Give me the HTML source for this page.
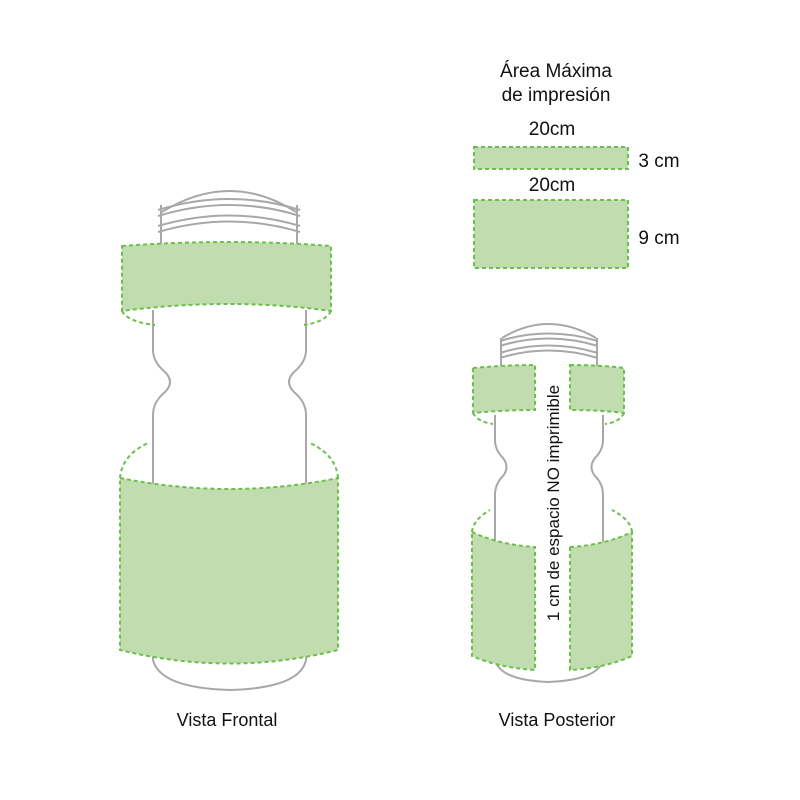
<!DOCTYPE html>
<html><head><meta charset="utf-8"><style>
html,body{margin:0;padding:0;background:#fff;}
svg{display:block;font-family:"Liberation Sans",sans-serif;}
</style></head><body>
<svg width="800" height="800" viewBox="0 0 800 800" xmlns="http://www.w3.org/2000/svg">
<g fill="none" stroke="#a8a8a8" stroke-width="2">
 <!-- Front bottle -->
 <path d="M162 212 Q230 170 296 212"/>
 <path d="M158 210 Q230 188 300 210"/>
 <path d="M158 216 Q230 194 300 216"/>
 <path d="M158 226 Q230 205 300 226"/>
 <path d="M158 232 Q230 211 300 232"/>
 <path d="M161 205 L161 245 M297 205 L297 245"/>
 <path d="M153 310 L153 350 Q153 362 165 372 Q175 382 165 392 Q153 402 153 415 L153 660 Q160 688 230 690 Q300 688 306 660 L306 415 Q306 402 294 392 Q284 382 294 372 Q306 362 306 350 L306 310"/>
 <!-- Back bottle -->
 <path d="M502 338 Q548 310 596 338"/>
 <path d="M500 341 Q548 326 598 341"/>
 <path d="M500 346 Q548 331 598 346"/>
 <path d="M500 353 Q548 338 598 353"/>
 <path d="M500 358 Q548 343 598 358"/>
 <path d="M501 338 L501 368 M597 338 L597 368"/>
 <path d="M495 415 L495 440 Q495 450 503 458 Q510 467 503 476 Q495 484 495 495 L495 660 Q500 680 548 682 Q598 680 603 660 L603 495 Q603 484 595 476 Q588 467 595 458 Q603 450 603 440 L603 415"/>
</g>
<g fill="#c1ddaf" stroke="#6cbf4a" stroke-width="2" stroke-dasharray="4 3">
 <path d="M122 246 Q230 238 331 246 L331 311 Q230 297 122 311 Z"/>
 <path d="M122 311 Q128 322 155 325" fill="none"/>
 <path d="M331 311 Q325 322 304 325" fill="none"/>
 <path d="M120 478 Q230 500 338 478 L338 650 Q230 677 120 650 Z"/>
 <path d="M120 478 Q122 455 148 443" fill="none"/>
 <path d="M338 478 Q336 455 310 443" fill="none"/>
 <rect x="474" y="147" width="154" height="22"/>
 <rect x="474" y="200" width="154" height="68"/>
 <path d="M473 368 Q505 365 535 365 L535 410 Q505 410 473 413 Z"/>
 <path d="M570 365 Q600 365 624 368 L624 413 Q600 410 570 410 Z"/>
 <path d="M473 413 Q478 422 493 424" fill="none"/>
 <path d="M624 413 Q620 422 605 424" fill="none"/>
 <path d="M472 532 Q500 545 535 547 L535 670 Q500 668 472 656 Z"/>
 <path d="M570 547 Q605 545 632 532 L632 656 Q605 668 570 670 Z"/>
 <path d="M472 532 Q473 520 490 510" fill="none"/>
 <path d="M632 532 Q631 520 612 510" fill="none"/>
</g>
<g fill="#111" font-size="19" text-anchor="middle">
 <text x="556" y="77">Área Máxima</text>
 <text x="556" y="101">de impresión</text>
 <text x="552" y="135">20cm</text>
 <text x="552" y="191">20cm</text>
 <text x="659" y="167">3 cm</text>
 <text x="659" y="244">9 cm</text>
 <text x="227" y="726" font-size="18">Vista Frontal</text>
 <text x="557" y="726" font-size="18">Vista Posterior</text>
 <text transform="translate(559,503) rotate(-90)" font-size="17">1 cm de espacio NO imprimible</text>
</g>
</svg>
</body></html>
